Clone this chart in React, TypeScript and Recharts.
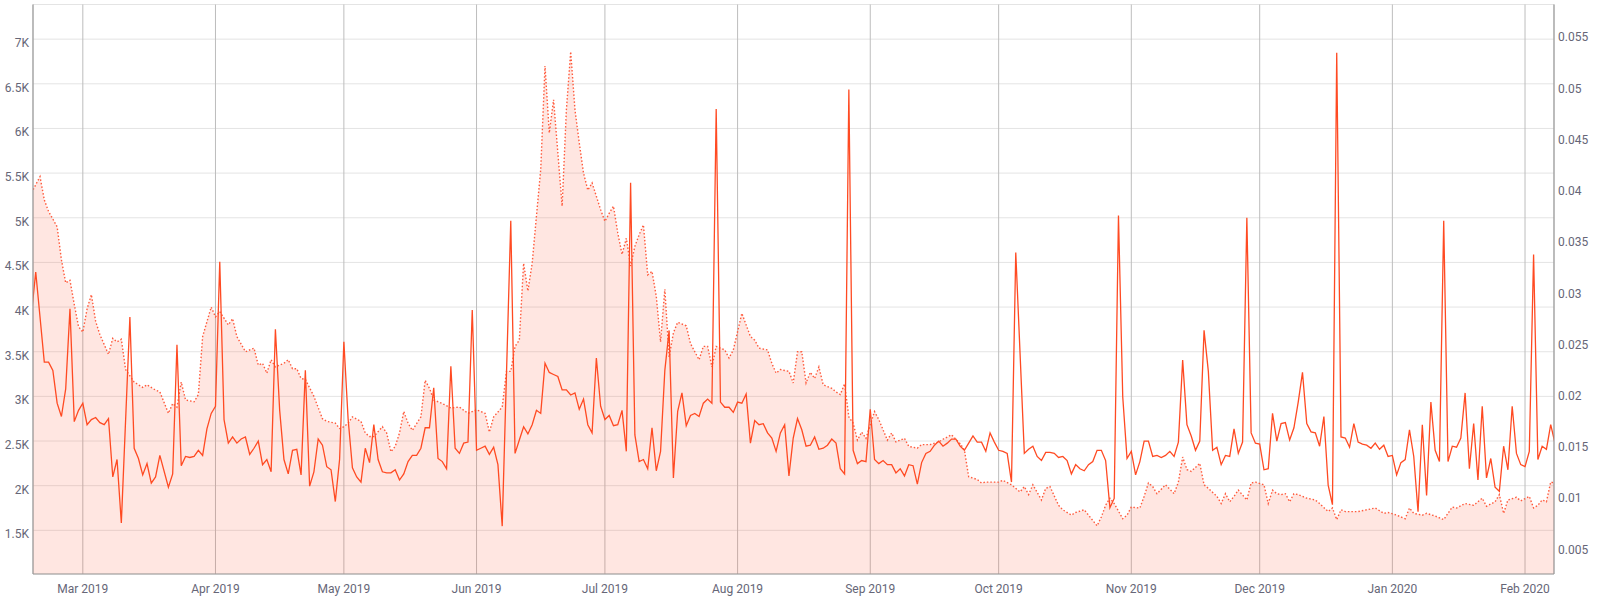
import React from "react";
import { ComposedChart, Area, Line, XAxis, YAxis, CartesianGrid } from "recharts";

// x values are days since 2019-03-01
const monthTicks = [0, 31, 61, 92, 122, 153, 184, 214, 245, 275, 306, 337];
const monthLabels = [
  "Mar 2019", "Apr 2019", "May 2019", "Jun 2019", "Jul 2019", "Aug 2019",
  "Sep 2019", "Oct 2019", "Nov 2019", "Dec 2019", "Jan 2020", "Feb 2020",
];

const leftTicks = [1500, 2000, 2500, 3000, 3500, 4000, 4500, 5000, 5500, 6000, 6500, 7000];
const leftLabels = ["1.5K", "2K", "2.5K", "3K", "3.5K", "4K", "4.5K", "5K", "5.5K", "6K", "6.5K", "7K"];
const rightTicks = [0.005, 0.01, 0.015, 0.02, 0.025, 0.03, 0.035, 0.04, 0.045, 0.05, 0.055];
const rightLabels = ["0.005", "0.01", "0.015", "0.02", "0.025", "0.03", "0.035", "0.04", "0.045", "0.05", "0.055"];

// dotted area series (left axis)
const areaDays = [
  -12, -10, -9, -8, -6, -5, -4, -3, -2, -1, 0, 1, 2, 3, 4, 6, 7, 8, 9, 10, 12, 14, 15, 17, 18,
  20, 21, 22, 23, 24, 26, 27, 28, 30, 31, 32, 34, 35, 36, 38, 40, 41, 42, 43, 44, 45, 47, 48, 49,
  50, 51, 52, 54, 56, 57, 59, 60, 61, 62, 63, 65, 66, 67, 68, 70, 71, 72, 73, 74, 75, 76, 77, 79,
  80, 81, 82, 84, 86, 88, 90, 92, 94, 95, 96, 98, 99, 100, 101, 102, 103, 104, 105, 106, 107, 108,
  109, 110, 111, 112, 113, 114, 115, 116, 117, 118, 119, 120, 121, 122, 123, 124, 125, 126, 127,
  128, 129, 130, 131, 132, 133, 134, 135, 136, 137, 138, 139, 141, 142, 144, 145, 146, 147, 148,
  150, 151, 152, 154, 156, 157, 158, 160, 161, 162, 163, 165, 166, 167, 168, 169, 170, 171, 172,
  173, 175, 176, 177, 178, 179, 180, 181, 182, 183, 185, 186, 188, 189, 190, 192, 193, 195, 196,
  198, 200, 201, 203, 205, 206, 207, 209, 210, 211, 214, 215, 217, 219, 220, 221, 222, 224, 225,
  226, 228, 229, 231, 232, 234, 235, 237, 238, 239, 240, 241, 243, 244, 245, 247, 248, 249, 250,
  251, 253, 255, 256, 257, 258, 259, 261, 262, 263, 265, 266, 267, 268, 269, 270, 272, 273, 274,
  276, 277, 278, 279, 280, 281, 282, 283, 284, 286, 288, 289, 291, 292, 293, 294, 295, 297, 298,
  300, 302, 304, 305, 307, 309, 310, 311, 313, 314, 316, 318, 320, 321, 323, 325, 327, 328, 330,
  331, 332, 333, 335, 336, 338, 339, 340, 341, 342, 343, 344,
];
const areaValues = [
  5280, 5460, 5200, 5070, 4900, 4530, 4270, 4300, 4030, 3780, 3720, 3980, 4140, 3840, 3690, 3470,
  3650, 3610, 3640, 3300, 3160, 3100, 3130, 3070, 3050,
  2810, 2920, 2880, 3160, 2960, 2940, 3020, 3670, 4000, 3890, 3950, 3800, 3870, 3670, 3500, 3540,
  3350, 3370, 3260, 3410, 3330, 3370, 3410, 3310,
  3310, 3200, 3190, 3000, 2750, 2720, 2700, 2640, 2660, 2700, 2770, 2720, 2590, 2550, 2550, 2660,
  2590, 2380, 2440, 2590, 2830, 2700, 2620, 2770,
  3180, 3090, 2960, 2920, 2870, 2880, 2810, 2850, 2810, 2600, 2770, 2880, 3280, 3280, 3560, 3630,
  4490, 4180, 4490, 5020, 5540, 6700,
  5950, 6320, 5730, 5130, 6210, 6860, 6210, 5840, 5500, 5310, 5390, 5240, 5090, 4960, 5050, 5130,
  4830, 4590, 4770,
  4460, 4680, 4810, 4920, 4360, 4400, 4120, 3610, 4200, 3440, 3710, 3830, 3790, 3590, 3410, 3560,
  3560, 3330, 3560,
  3520, 3430, 3520, 3930, 3670, 3630, 3540, 3520, 3370, 3260, 3300, 3280, 3150, 3500, 3500, 3150,
  3270, 3200, 3330,
  3130, 3090, 3050, 3020, 3140, 2770, 2700, 2510, 2600, 2530, 2830, 2740, 2510, 2590, 2490, 2530,
  2440, 2420, 2460,
  2460, 2490, 2520, 2570, 2470, 2400, 2100, 2070, 2030, 2040, 2040, 2060, 2010, 1930, 1990, 1900,
  2010, 1840, 1970,
  1990, 1780, 1730, 1670, 1700, 1730, 1670, 1550, 1650, 1780, 1860, 1800, 1630, 1670, 1760, 1750,
  1880, 2030, 1990,
  1910, 2010, 1910, 2040, 2320, 2180, 2160, 2250, 2010, 1970, 1880, 1800, 1910, 1820, 1880, 1950,
  1840, 2030, 2040,
  2010, 1800, 1950, 1910, 1900, 1910, 1820, 1910, 1900, 1860, 1840, 1800, 1710, 1750, 1620, 1730,
  1710, 1710, 1710,
  1730, 1750, 1690, 1700, 1670, 1630, 1750, 1690, 1670, 1690, 1660, 1620, 1760, 1750, 1800, 1780,
  1860, 1770, 1820,
  1900, 1690, 1840, 1870, 1830, 1880, 1750, 1780, 1840, 1820, 2040, 2030,
];

// solid line series (right axis)
const lineDays = [
  -12, -11, -9, -8, -7, -6, -5, -4, -3, -2, -1, 0, 1, 2, 3, 4, 5, 6, 7, 8, 9, 11, 12, 13, 14, 15,
  16, 17, 18, 20, 21, 22, 23, 24, 25, 26, 27, 28, 29, 30, 31, 32, 33, 34, 35, 36, 37, 38, 39, 40,
  41, 42, 43, 44, 45, 46, 47, 48, 49, 50, 51, 52, 53, 54, 55, 56, 57, 58, 59, 60, 61, 62, 63, 64,
  65, 66, 67, 68, 69, 70, 71, 72, 73, 74, 75, 76, 77, 78, 79, 80, 81, 82, 83, 84, 85, 86, 87, 88,
  89, 90, 91, 92, 93, 94, 95, 96, 97, 98, 100, 101, 102, 103, 104, 105, 106, 107, 108, 109, 110,
  111, 112, 113, 114, 115, 116, 117, 118, 119, 120, 121, 122, 123, 124, 125, 126, 127, 128, 129,
  130, 131, 132, 133, 134, 135, 136, 137, 138, 139, 140, 141, 142, 143, 144, 145, 146, 147, 148,
  149, 150, 151, 152, 153, 154, 155, 156, 157, 158, 159, 160, 161, 162, 163, 164, 165, 166, 167,
  168, 169, 170, 171, 172, 173, 174, 175, 176, 177, 178, 179, 180, 181, 182, 183, 184, 185, 186,
  187, 188, 189, 190, 191, 192, 193, 194, 195, 196, 197, 198, 199, 200, 201, 202, 203, 204, 205,
  206, 207, 208, 209, 210, 211, 212, 213, 214, 215, 216, 217, 218, 220, 221, 222, 223, 224, 225,
  226, 227, 228, 229, 230, 231, 232, 233, 234, 235, 236, 237, 238, 239, 240, 241, 242, 243, 244,
  245, 246, 247, 248, 249, 250, 251, 252, 253, 254, 255, 256, 257, 258, 259, 260, 261, 262, 263,
  264, 265, 266, 267, 268, 269, 270, 271, 272, 273, 274, 275, 276, 277, 278, 279, 280, 281, 282,
  283, 284, 285, 286, 287, 288, 289, 290, 291, 292, 293, 294, 295, 296, 297, 298, 299, 300, 301,
  302, 303, 304, 305, 306, 307, 308, 309, 310, 311, 312, 313, 314, 315, 316, 317, 318, 319, 320,
  321, 322, 323, 324, 325, 326, 327, 328, 329, 330, 331, 332, 333, 334, 335, 336, 337, 338, 339,
  340, 341, 342, 343, 344,
];
const lineValues = [
  0.028, 0.0321, 0.0233, 0.0233, 0.0225, 0.0193, 0.018, 0.0207, 0.0285, 0.0175, 0.0186, 0.0193,
  0.0172, 0.0177, 0.0179, 0.0174, 0.0172, 0.0178, 0.0121, 0.0138, 0.0076, 0.0277, 0.0149, 0.0139,
  0.0123, 0.0134,
  0.0115, 0.0121, 0.0142, 0.0111, 0.0124, 0.025, 0.0132, 0.0141, 0.014, 0.0141, 0.0147, 0.0142,
  0.0168, 0.0183, 0.019, 0.0331, 0.0177, 0.0154, 0.016, 0.0154, 0.0158, 0.016, 0.0143, 0.0149,
  0.0156, 0.0133, 0.0138, 0.0126, 0.0265, 0.0186, 0.0138, 0.0124, 0.0147, 0.0148, 0.0123, 0.0225,
  0.0112, 0.0126, 0.0158, 0.0152, 0.0131, 0.0128, 0.0097, 0.0138, 0.0253, 0.0177, 0.013, 0.0121,
  0.0116, 0.0149, 0.0135, 0.0172, 0.0138, 0.0126, 0.0125, 0.0125, 0.0128, 0.0118, 0.0124, 0.0136,
  0.0142, 0.0142, 0.0149, 0.0169, 0.0169, 0.0208, 0.0139, 0.0136, 0.0129, 0.0229, 0.0149, 0.0144,
  0.0154, 0.0155, 0.0284, 0.0147, 0.0149, 0.0151, 0.0143, 0.015, 0.0133, 0.0073, 0.0371, 0.0144,
  0.0157, 0.017, 0.0163, 0.0172, 0.0186, 0.0183, 0.0232, 0.0223, 0.0221,
  0.0219, 0.0206, 0.0206, 0.0201, 0.0203, 0.0187, 0.0197, 0.0172, 0.0164, 0.0237, 0.019, 0.0177,
  0.0181, 0.0171, 0.0172, 0.0186, 0.0146, 0.0408, 0.0162,
  0.0136, 0.0138, 0.0129, 0.0169, 0.0127, 0.0146, 0.0225, 0.0264, 0.012, 0.0185, 0.0203, 0.0171,
  0.0181, 0.0183, 0.018, 0.0193, 0.0197, 0.0193, 0.048,
  0.0194, 0.0189, 0.0189, 0.0184, 0.0194, 0.0193, 0.0202, 0.0154, 0.0176, 0.0172, 0.0173, 0.0164,
  0.0159, 0.0146, 0.0164, 0.0172, 0.0122, 0.0159, 0.0178,
  0.0167, 0.0151, 0.0152, 0.016, 0.0148, 0.0149, 0.0152, 0.0158, 0.0154, 0.0129, 0.0124, 0.0499,
  0.0147, 0.0134, 0.0137, 0.0136, 0.0187, 0.0138, 0.0134,
  0.0137, 0.0133, 0.0133, 0.0125, 0.0129, 0.0122, 0.0133, 0.0132, 0.0114, 0.0135, 0.0144, 0.0146,
  0.0152, 0.0156, 0.0151, 0.0154, 0.0158, 0.0158, 0.0151,
  0.0147, 0.0154, 0.0161, 0.0155, 0.0155, 0.0146, 0.0164, 0.0155, 0.0147, 0.0146, 0.0144, 0.0116,
  0.034, 0.0144, 0.0148, 0.0151, 0.0141, 0.0137, 0.0145,
  0.0145, 0.0144, 0.014, 0.0141, 0.0137, 0.0124, 0.0133, 0.0129, 0.0127, 0.0133, 0.0136, 0.0147,
  0.0147, 0.0137, 0.0091, 0.01, 0.0376, 0.0199, 0.0139,
  0.0146, 0.0123, 0.0136, 0.0156, 0.0156, 0.0141, 0.0142, 0.014, 0.0142, 0.0146, 0.0141, 0.0155,
  0.0235, 0.0172, 0.0161, 0.0147, 0.0156, 0.0264, 0.0224,
  0.0147, 0.015, 0.0133, 0.0142, 0.0141, 0.0168, 0.0144, 0.0155, 0.0374, 0.0164, 0.0154, 0.0153,
  0.0128, 0.0129, 0.0183, 0.0156, 0.0173, 0.0174, 0.0157,
  0.0169, 0.0194, 0.0223, 0.0173, 0.0165, 0.0164, 0.0151, 0.018, 0.0113, 0.0094, 0.0535, 0.016,
  0.0159, 0.015, 0.0173, 0.0155, 0.0153, 0.0152, 0.0149,
  0.0154, 0.0148, 0.0152, 0.0141, 0.0142, 0.0123, 0.0135, 0.0138, 0.0167, 0.0141, 0.0087, 0.0172,
  0.0103, 0.0194, 0.0147, 0.0136, 0.0371, 0.0136, 0.0151,
  0.015, 0.0159, 0.0203, 0.0129, 0.0173, 0.0118, 0.019, 0.012, 0.0139, 0.0111, 0.0107, 0.0151,
  0.0128, 0.019, 0.0144, 0.0133, 0.0131, 0.0146, 0.0338,
  0.0138, 0.0151, 0.0148, 0.0172, 0.0154,
];

const areaData = areaDays.map((day, i) => ({ day, value: areaValues[i] }));
const lineData = lineDays.map((day, i) => ({ day, value: lineValues[i] }));

const labelColor = "#666677";
const font = "Roboto, sans-serif";

const LeftTick = (props: any) => {
  const { x, y, payload } = props;
  return (
    <text x={x} y={y + 4} textAnchor="end" dominantBaseline="central" fontSize={12} fontFamily={font} fill={labelColor}>
      {leftLabels[leftTicks.indexOf(payload.value)]}
    </text>
  );
};

const RightTick = (props: any) => {
  const { x, y, payload } = props;
  return (
    <text x={x} y={y} textAnchor="start" dominantBaseline="central" fontSize={12} fontFamily={font} fill={labelColor}>
      {rightLabels[rightTicks.indexOf(payload.value)]}
    </text>
  );
};

const MonthTick = (props: any) => {
  const { x, y, payload } = props;
  return (
    <text x={x} y={y + 15} textAnchor="middle" dominantBaseline="central" fontSize={12} fontFamily={font} fill={labelColor}>
      {monthLabels[monthTicks.indexOf(payload.value)]}
    </text>
  );
};

export default function App() {
  return (
    <div style={{ width: 1600, height: 597, background: "#fff" }}>
      <style>{"body{margin:0}"}</style>
      <ComposedChart width={1600} height={597} margin={{ top: 4.5, right: 0, bottom: 0, left: 0 }}>
        <CartesianGrid yAxisId="left" vertical={false} stroke="#e4e4e4" />
        <CartesianGrid yAxisId="left" horizontal={false} stroke="#bdbdbd" />
        <XAxis
          dataKey="day"
          type="number"
          domain={[-11.64, 343.77]}
          allowDataOverflow
          ticks={monthTicks}
          interval={0}
          height={23}
          tickSize={0}
          tickMargin={0}
          tickLine={false}
          axisLine={{ stroke: "#999999" }}
          tick={<MonthTick />}
        />
        <YAxis
          yAxisId="left"
          orientation="left"
          type="number"
          domain={[1011, 7388]}
          allowDataOverflow
          ticks={leftTicks}
          interval={0}
          width={33}
          tickSize={0}
          tickMargin={4}
          tickLine={false}
          axisLine={{ stroke: "#999999" }}
          tick={<LeftTick />}
        />
        <YAxis
          yAxisId="right"
          orientation="right"
          type="number"
          domain={[0.00263, 0.0582]}
          allowDataOverflow
          ticks={rightTicks}
          interval={0}
          width={46}
          tickSize={0}
          tickMargin={4}
          tickLine={false}
          axisLine={{ stroke: "#999999" }}
          tick={<RightTick />}
        />
        <Area
          data={areaData}
          yAxisId="left"
          dataKey="value"
          type="linear"
          stroke="#ff5a3c"
          strokeWidth={1.4}
          strokeDasharray="1.5 2"
          fill="#ff5533"
          fillOpacity={0.15}
          dot={false}
          activeDot={false}
          isAnimationActive={false}
        />
        <Line
          data={lineData}
          yAxisId="right"
          dataKey="value"
          type="linear"
          stroke="#ff4a22"
          strokeWidth={1.3}
          dot={false}
          activeDot={false}
          isAnimationActive={false}
        />
      </ComposedChart>
    </div>
  );
}
